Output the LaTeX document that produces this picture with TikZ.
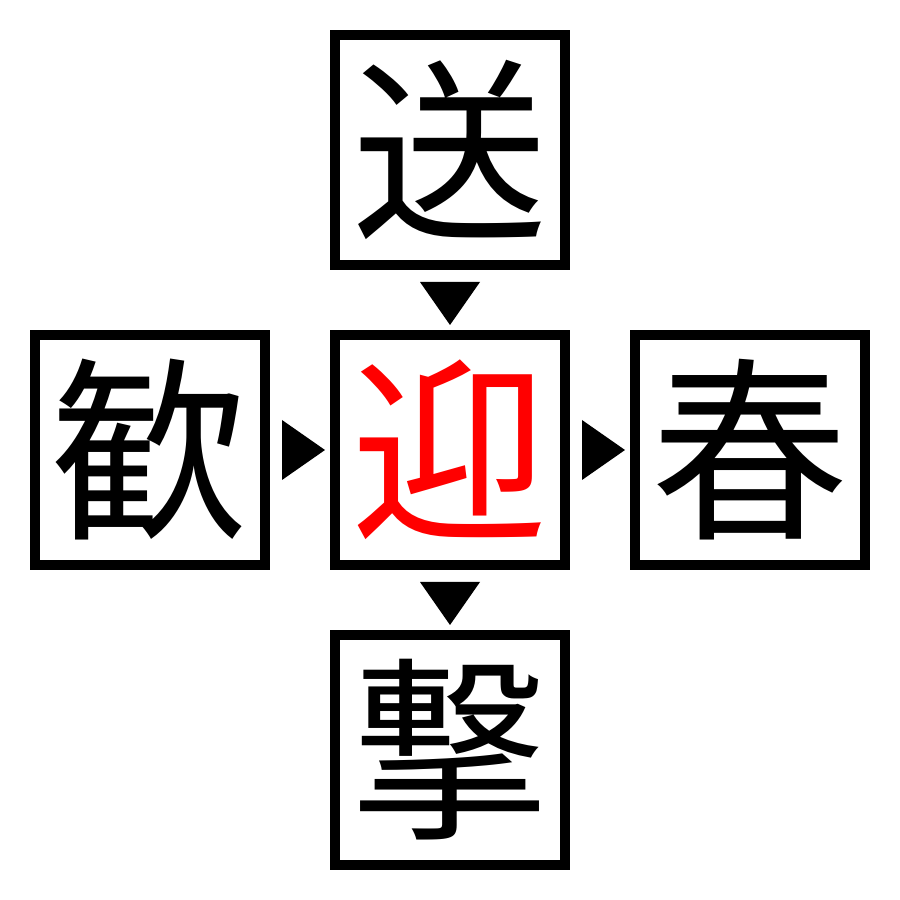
\documentclass[tikz,border=0pt]{standalone}
\usepackage{fontspec}
\newfontfamily\cjk{Noto Sans CJK JP}
\usepackage{tikz}

\tikzset{
    kanjibox/.style={draw, line width=0.1cm, minimum size=2.3cm, inner sep=0pt,
        font=\cjk\fontsize{56}{56}\selectfont},
    pointer/.style={fill=black}
}

\begin{document}
\begin{tikzpicture}
    \useasboundingbox (0,0) rectangle (9,9);
    % boxes
        \node [kanjibox] (send) at (4.5, 7.5) {送};
        \node [kanjibox] (joy) at (1.5, 4.5) {歓};
        \node [kanjibox, text=red] (welcome) at (4.5, 4.5) {迎};
        \node [kanjibox] (spring) at (7.5, 4.5) {春};
        \node [kanjibox] (strike) at (4.5, 1.5) {撃};
    % pointers
        \fill [pointer] (4.2,6.18) -- (4.8,6.18) -- (4.5,5.75) -- cycle;
        \fill [pointer] (4.2,3.18) -- (4.8,3.18) -- (4.5,2.75) -- cycle;
        \fill [pointer] (2.82,4.8) -- (2.82,4.2) -- (3.25,4.5) -- cycle;
        \fill [pointer] (5.82,4.8) -- (5.82,4.2) -- (6.25,4.5) -- cycle;
    \end{tikzpicture}
\end{document}
